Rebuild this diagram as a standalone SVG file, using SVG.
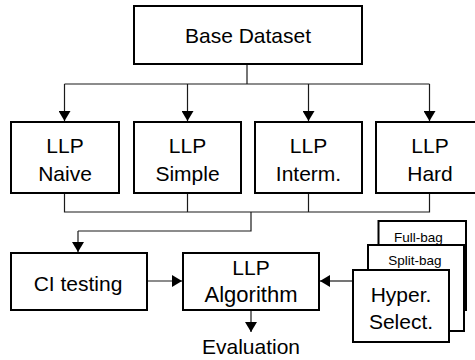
<svg xmlns="http://www.w3.org/2000/svg" width="475" height="360" viewBox="0 0 475 360">
<style>
.box{fill:#fff;stroke:#000;stroke-width:2}
.t{font-family:"Liberation Sans",Arial,sans-serif;font-size:21px;fill:#000;text-anchor:middle}
.s{font-family:"Liberation Sans",Arial,sans-serif;font-size:13.5px;fill:#000;text-anchor:middle}
.c{fill:none;stroke:#1a1a1a;stroke-width:1.2}
</style>
<defs>
<marker id="ah" viewBox="0 0 10 12" refX="10" refY="6" markerWidth="10" markerHeight="12" markerUnits="userSpaceOnUse" orient="auto">
<path d="M0,0 L10,6 L0,12 Z" fill="#000"/>
</marker>
</defs>
<g id="connectors">
<path class="c" d="M247,64 V84 M64.5,84 H429.5"/>
<path class="c" d="M64.5,84 V121" marker-end="url(#ah)"/>
<path class="c" d="M187.5,84 V121" marker-end="url(#ah)"/>
<path class="c" d="M308.5,84 V121" marker-end="url(#ah)"/>
<path class="c" d="M429.5,84 V121" marker-end="url(#ah)"/>
<path class="c" d="M64.5,193 V212 H429.5 V193 M187.5,193 V212 M308.5,193 V212 M251,212 V231 H78"/>
<path class="c" d="M78,231 V252" marker-end="url(#ah)"/>
<path class="c" d="M147,281 H182" marker-end="url(#ah)"/>
<path class="c" d="M352,281 H320" marker-end="url(#ah)"/>
<path class="c" d="M251,310 V332" marker-end="url(#ah)"/>
</g>
<g id="base"><rect class="box" x="134" y="6" width="228" height="58"/><text class="t" x="248" y="43">Base Dataset</text></g>
<g id="naive"><rect class="box" x="11" y="122" width="108" height="71"/><text class="t" x="65" y="153">LLP</text><text class="t" x="65" y="181">Naive</text></g>
<g id="simple"><rect class="box" x="134" y="122" width="107" height="71"/><text class="t" x="187.5" y="153">LLP</text><text class="t" x="187.5" y="181">Simple</text></g>
<g id="interm"><rect class="box" x="255" y="122" width="107" height="71"/><text class="t" x="308.5" y="153">LLP</text><text class="t" x="308.5" y="181">Interm.</text></g>
<g id="hard"><rect class="box" x="376" y="122" width="108" height="71"/><text class="t" x="430" y="153">LLP</text><text class="t" x="430" y="181">Hard</text></g>
<g id="ci"><rect class="box" x="11" y="253" width="136" height="57"/><text class="t" x="78" y="291">CI testing</text></g>
<g id="algo"><rect class="box" x="183" y="253" width="136" height="57"/><text class="t" x="251" y="275">LLP</text><text class="t" x="251" y="302" style="font-size:22px">Algorithm</text></g>
<g id="eval"><text class="t" x="251" y="354">Evaluation</text></g>
<g id="fullbag"><rect class="box" x="378.5" y="221" width="87.5" height="89"/><text class="s" x="418.5" y="241.5">Full-bag</text></g>
<g id="splitbag"><rect class="box" x="368" y="245" width="96" height="86"/><text class="s" x="415" y="265">Split-bag</text></g>
<g id="hyper"><rect class="box" x="353" y="270" width="96" height="72"/><text class="t" x="401" y="302">Hyper.</text><text class="t" x="401" y="329">Select.</text></g>
</svg>
